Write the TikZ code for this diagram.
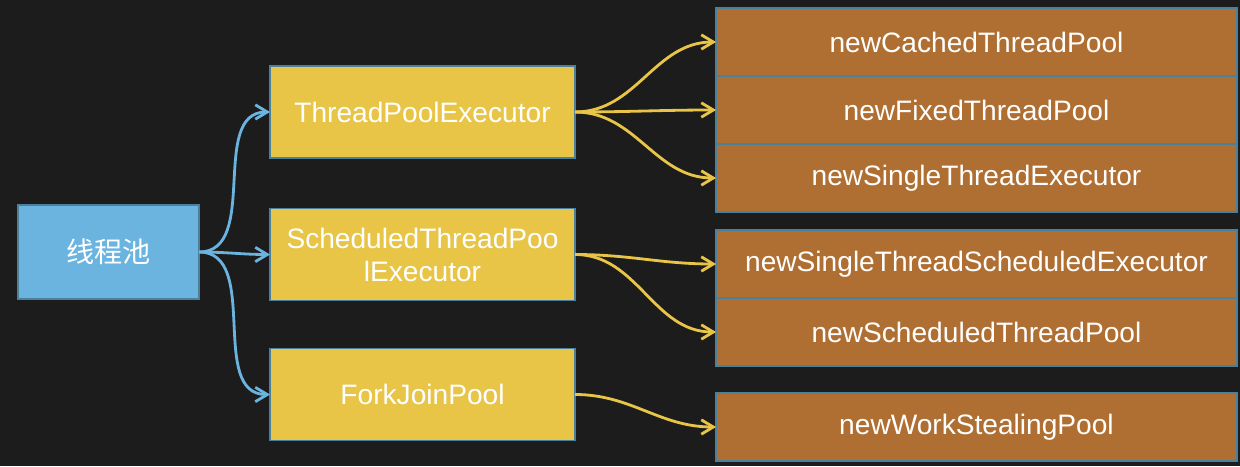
\documentclass[tikz,border=0pt]{standalone}
\usepackage{fontspec}
\setmainfont{Liberation Sans}
\newfontfamily\cjk{Noto Sans CJK SC}
\usetikzlibrary{positioning,arrows.meta}
\definecolor{board}{RGB}{28,28,28}
\definecolor{poolblue}{RGB}{107,180,223}
\definecolor{execyellow}{RGB}{232,197,71}
\definecolor{factorybrown}{RGB}{176,111,50}
\definecolor{edgeblue}{RGB}{74,128,155}
\tikzset{
    box/.style={draw=edgeblue, line width=1pt, text=white, inner sep=0pt, outer sep=0pt,
        align=center, font=\fontsize{20}{23.5}\selectfont},
    poolbox/.style={box, fill=poolblue, minimum width=4.525cm, minimum height=2.35cm},
    execbox/.style={box, fill=execyellow, minimum width=7.625cm, minimum height=2.3cm},
    factorybox/.style={box, fill=factorybrown, minimum width=13.025cm, minimum height=1.7cm},
    link/.style={line width=2pt, -{Straight Barb[length=3mm,width=3.6mm]}, out=0, in=180}
}

\begin{document}
\begin{tikzpicture}
    \fill[board] (0,0) rectangle (31,11.65);

    \node[poolbox] (pool) at (2.7125,5.35) {\cjk 线程池};

    \node[execbox] (tpe) at (10.5625,8.85) {ThreadPoolExecutor};
    \node[execbox] (stpe) at (10.5625,5.2875) {ScheduledThreadPoo\\lExecutor};
    \node[execbox] (fjp) at (10.5625,1.7875) {ForkJoinPool};

    \node[factorybox] (cached) at (24.4125,10.6) {newCachedThreadPool};
    \node[factorybox, below=0pt of cached] (fixed) {newFixedThreadPool};
    \node[factorybox, below=0pt of fixed] (single) {newSingleThreadExecutor};

    \node[factorybox] (singlesched) at (24.4125,5.05) {newSingleThreadScheduledExecutor};
    \node[factorybox, below=0pt of singlesched] (sched) {newScheduledThreadPool};

    \node[factorybox] (stealing) at (24.4125,0.975) {newWorkStealingPool};

    \draw[link, poolblue] (pool.east) to (tpe.west);
    \draw[link, poolblue] (pool.east) to (stpe.west);
    \draw[link, poolblue] (pool.east) to (fjp.west);

    \draw[link, execyellow] (tpe.east) to (cached.west);
    \draw[link, execyellow] (tpe.east) to (fixed.west);
    \draw[link, execyellow] (tpe.east) to (single.west);

    \draw[link, execyellow] (stpe.east) to (singlesched.west);
    \draw[link, execyellow] (stpe.east) to (sched.west);

    \draw[link, execyellow] (fjp.east) to (stealing.west);
\end{tikzpicture}
\end{document}
